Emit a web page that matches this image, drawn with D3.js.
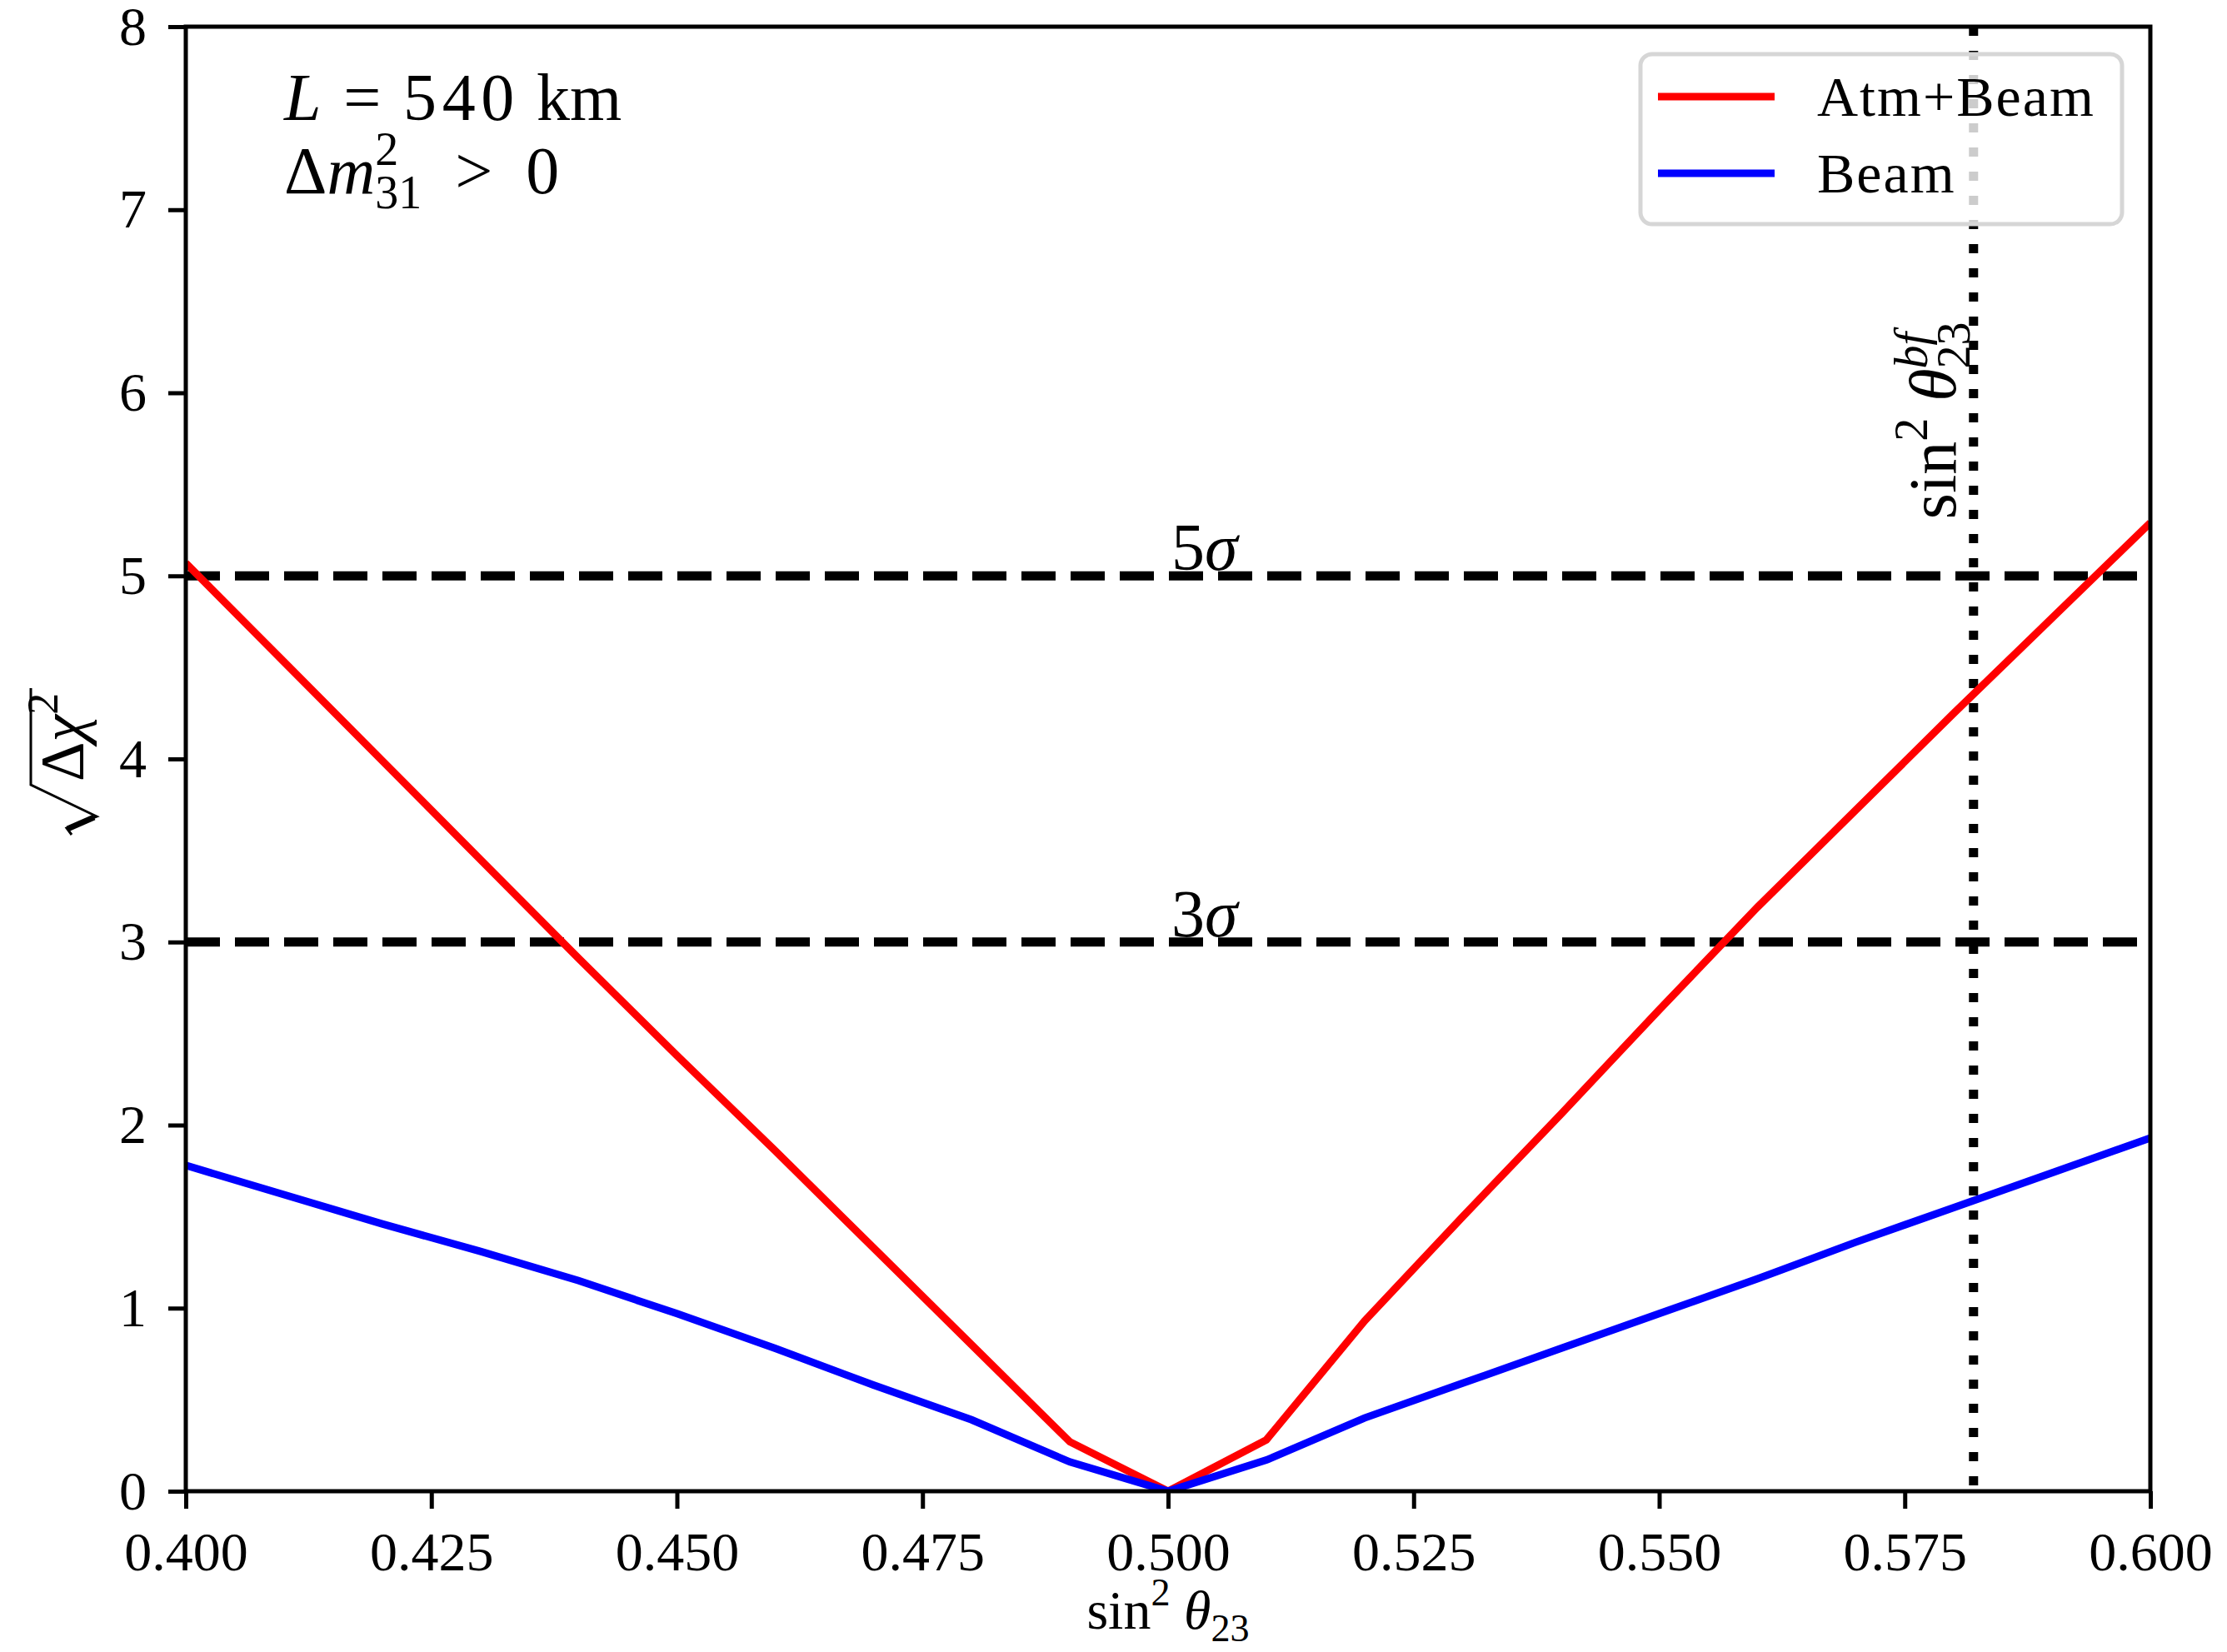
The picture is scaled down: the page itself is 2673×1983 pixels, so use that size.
<!DOCTYPE html>
<html lang="en">
<head>
<meta charset="UTF-8">
<title>sqrt(Delta chi^2) vs sin^2 theta23</title>
<script src="https://d3js.org/d3.v7.min.js"></script>
<style>
    body { margin: 0; background: #fff; }
    svg { display: block; }
    text { font-family: 'Liberation Serif', 'DejaVu Serif', serif; fill: #000; }
</style>
</head>
<body>
<div id="chart"></div>
<script>
    // values
    const xValues = [0.40, 0.41, 0.42, 0.43, 0.44, 0.45, 0.46, 0.47, 0.48, 0.49, 0.50,
                     0.51, 0.52, 0.53, 0.54, 0.55, 0.56, 0.57, 0.58, 0.59, 0.60];
    const atmBeam = [5.07, 4.53, 3.99, 3.45, 2.91, 2.38, 1.86, 1.33, 0.80, 0.27, 0.00,
                     0.28, 0.93, 1.50, 2.06, 2.63, 3.19, 3.72, 4.25, 4.77, 5.29];
    const beam    = [1.78, 1.62, 1.46, 1.31, 1.15, 0.97, 0.78, 0.58, 0.39, 0.16, 0.00,
                     0.17, 0.40, 0.59, 0.78, 0.97, 1.16, 1.36, 1.55, 1.74, 1.93];
    const seriesNames = ["Atm+Beam", "Beam"];
    const seriesColors = ["#ff0000", "#0000ff"];
    const xTicks = [0.400, 0.425, 0.450, 0.475, 0.500, 0.525, 0.550, 0.575, 0.600];
    const yTicks = [0, 1, 2, 3, 4, 5, 6, 7, 8];
    const sigmaLevels = [3, 5];
    const sigmaLabelX = 0.5;
    const bestFit = 0.582;

    const width = 2673, height = 1983;
    const margin = {top: 32, right: 92, bottom: 193, left: 223};
    const innerW = width - margin.left - margin.right;
    const innerH = height - margin.top - margin.bottom;

    const svg = d3.select("#chart").append("svg")
        .attr("width", width)
        .attr("height", height);

    const g = svg.append("g")
        .attr("transform", `translate(${margin.left},${margin.top})`);

    const x = d3.scaleLinear().domain([0.4, 0.6]).range([0, innerW]);
    const y = d3.scaleLinear().domain([0, 8]).range([innerH, 0]);

    g.append("clipPath").attr("id", "clip")
        .append("rect").attr("width", innerW).attr("height", innerH);

    // writes a small piece of math into a <text>: parts = {t, it, s: 'sup'|'sub', stack}
    function mathText(sel, parts, size) {
        let shift = 0, prev = null;
        parts.forEach(p => {
            const fs = p.s ? size * 0.7 : size;
            const target = p.s === "sup" ? -size * 0.42 : p.s === "sub" ? size * 0.22 : 0;
            const ts = sel.append("tspan")
                .text(p.t)
                .attr("font-size", fs)
                .attr("font-style", p.it ? "italic" : "normal")
                .attr("dy", target - shift);
            if (p.stack && prev) ts.attr("dx", -prev.node().getComputedTextLength());
            shift = target;
            prev = ts;
        });
        return sel;
    }

    const plot = g.append("g").attr("clip-path", "url(#clip)");

    // reference lines
    plot.selectAll(".sigma").data(sigmaLevels).enter().append("line")
        .attr("x1", 0).attr("x2", innerW)
        .attr("y1", d => y(d)).attr("y2", d => y(d))
        .attr("stroke", "#000").attr("stroke-width", 11)
        .attr("stroke-dasharray", "41,18");

    plot.append("line")
        .attr("x1", x(bestFit)).attr("x2", x(bestFit))
        .attr("y1", 0).attr("y2", innerH)
        .attr("stroke", "#000").attr("stroke-width", 11)
        .attr("stroke-dasharray", "11,18");

    // curves
    const line = d3.line().x(d => x(d[0])).y(d => y(d[1]));
    [atmBeam, beam].forEach((vals, i) => {
        plot.append("path")
            .datum(xValues.map((xv, j) => [xv, vals[j]]))
            .attr("fill", "none")
            .attr("stroke", seriesColors[i])
            .attr("stroke-width", 9)
            .attr("stroke-linejoin", "miter")
            .attr("d", line);
    });

    // sigma labels
    sigmaLevels.forEach(s => {
        const t = g.append("text")
            .attr("x", x(sigmaLabelX) + 4)
            .attr("y", y(s) - 7);
        mathText(t, [{t: String(s)}, {t: "σ", it: true}], 80);
    });

    // best-fit label, rotated
    const bf = g.append("g")
        .attr("transform", `translate(${x(bestFit) - 22},${y(5.31)}) rotate(-90)`)
        .append("text");
    mathText(bf, [{t: "sin"}, {t: "2", s: "sup"}, {t: " θ", it: true},
                  {t: "23", s: "sub"}, {t: "bf", it: true, s: "sup", stack: true}], 80);

    // axes
    const xAxis = g.append("g")
        .attr("transform", `translate(0,${innerH})`)
        .call(d3.axisBottom(x).tickValues(xTicks).tickFormat(d3.format(".3f"))
            .tickSize(21).tickPadding(27));
    const yAxis = g.append("g")
        .call(d3.axisLeft(y).tickValues(yTicks).tickFormat(d3.format("d"))
            .tickSize(21).tickPadding(26));
    [xAxis, yAxis].forEach(a => {
        a.select(".domain").remove();
        a.selectAll(".tick line").attr("stroke", "#000").attr("stroke-width", 5);
        a.selectAll(".tick text").attr("font-size", 66)
            .attr("font-family", "'Liberation Serif', serif");
    });

    g.append("rect")
        .attr("width", innerW).attr("height", innerH)
        .attr("fill", "none").attr("stroke", "#000").attr("stroke-width", 5);

    // axis labels
    const xl = svg.append("text")
        .attr("x", margin.left + innerW / 2)
        .attr("y", 1955)
        .attr("text-anchor", "middle");
    mathText(xl, [{t: "sin"}, {t: "2", s: "sup"}, {t: " θ", it: true}, {t: "23", s: "sub"}], 66);

    const yl = svg.append("g").attr("transform", "translate(100,1004) rotate(-90)");
    const ylText = yl.append("text").attr("x", 66).attr("y", 0);
    mathText(ylText, [{t: "Δ"}, {t: "χ", it: true}, {t: "2", s: "sup"}], 74);
    const ylLen = ylText.node().getComputedTextLength();
    yl.append("path")
        .attr("d", `M2,-14 L10,-20 L24,16 L62,-63 L${66 + ylLen + 6},-63`)
        .attr("fill", "none").attr("stroke", "#000").attr("stroke-width", 3)
        .attr("stroke-linejoin", "miter");
    yl.append("line")
        .attr("x1", 9).attr("y1", -19).attr("x2", 23).attr("y2", 13)
        .attr("stroke", "#000").attr("stroke-width", 7);

    // annotation
    const a1 = svg.append("text").attr("x", 341).attr("y", 144);
    mathText(a1, [{t: "L", it: true}, {t: "\u2004=\u20045\u200a4\u200a0\u2004km"}], 80);
    const a2 = svg.append("text").attr("x", 341).attr("y", 232);
    mathText(a2, [{t: "Δ"}, {t: "m", it: true}, {t: "2", s: "sup"},
                  {t: "31", s: "sub", stack: true}, {t: "\u2002>\u20020"}], 80);

    // legend
    const legend = svg.append("g").attr("transform", "translate(1969,65)");
    legend.append("rect")
        .attr("width", 578).attr("height", 204).attr("rx", 14)
        .attr("fill", "#fff").attr("fill-opacity", 0.8)
        .attr("stroke", "#d6d6d6").attr("stroke-width", 5);
    seriesNames.forEach((name, i) => {
        const ly = 51 + i * 92;
        legend.append("line")
            .attr("x1", 21).attr("x2", 161).attr("y1", ly).attr("y2", ly)
            .attr("stroke", seriesColors[i]).attr("stroke-width", 9);
        legend.append("text")
            .attr("x", 212).attr("y", ly + 23)
            .attr("font-size", 68)
            .attr("letter-spacing", 2)
            .text(name);
    });
</script>
</body>
</html>
